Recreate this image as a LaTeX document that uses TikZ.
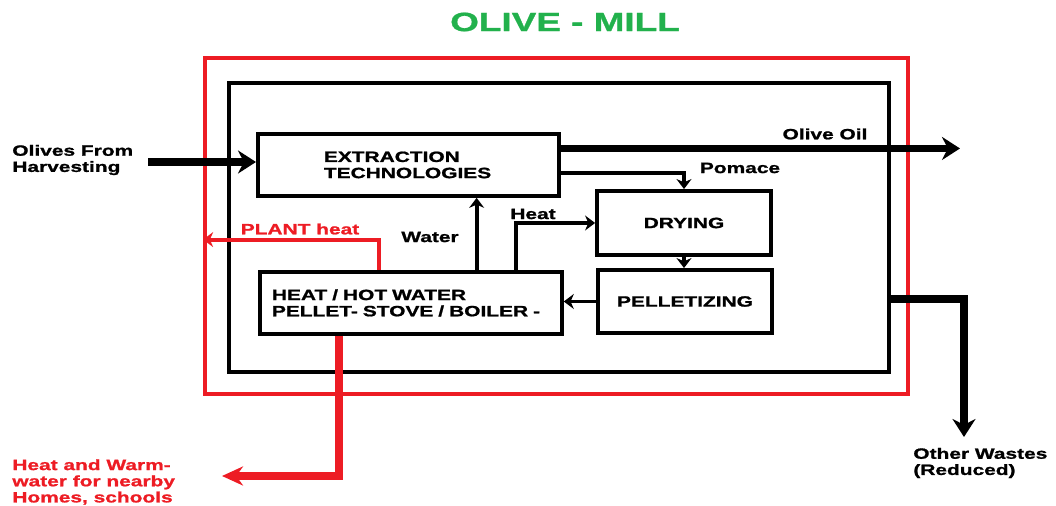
\documentclass[tikz,border=0pt]{standalone}
\usepackage{fontspec}
\newfontfamily\paintfont{Liberation Sans}[FakeStretch=1.4, BoldFeatures={FakeBold=1.2}]
\usetikzlibrary{arrows.meta,calc}
\definecolor{paintred}{RGB}{237,28,36}
\definecolor{paintgreen}{RGB}{34,177,76}
\tikzset{
    lbl/.style={font=\paintfont\bfseries\fontsize{8.5}{9.2}\selectfont, inner sep=0pt, align=left},
    unitbox/.style={draw, line width=2.2pt, inner sep=0pt, font=\paintfont\bfseries\fontsize{8.5}{9.2}\selectfont},
    flow/.style={line width=2.2pt, -{Stealth[length=0.2cm,width=0.3cm]}},
    bigflow/.style={line width=4.4pt, -{Stealth[length=0.36cm,width=0.46cm]}},
    redflow/.style={paintred, line width=4.2pt, -{Stealth[length=0.42cm,width=0.38cm]}},
}
\begin{document}
\begin{tikzpicture}[x=0.02cm, y=-0.02cm]
    \useasboundingbox (0,0) rectangle (1056,506);

    \node[font=\paintfont\bfseries\fontsize{15}{18}\selectfont, text=paintgreen] (title) at (565,22) {OLIVE - MILL};
    \node[draw=paintred, line width=2.2pt, minimum width=14.06cm, minimum height=6.72cm] (mill) at (556.5,226) {};
    \node[draw, line width=2.2pt, minimum width=13.2cm, minimum height=5.78cm] (plant) at (559,227.5) {};

    \begin{scope}
        \node[unitbox, anchor=north west, text width=3.38cm, inner xsep=1.32cm, minimum height=1.24cm, align=left] (extract) at (256,132) {EXTRACTION\\TECHNOLOGIES};
        \node[unitbox, anchor=north west, text width=5.56cm, inner xsep=0.24cm, minimum height=1.24cm, align=left] (heat) at (258,270) {HEAT / HOT WATER\\PELLET- STOVE / BOILER -};
        \node[unitbox, minimum width=3.48cm, minimum height=1.28cm] (dry) at (684,223) {DRYING};
        \node[unitbox, minimum width=3.48cm, minimum height=1.26cm] (pellet) at (685,301.5) {PELLETIZING};
    \end{scope}

    \node[lbl, anchor=west] (olives) at (12,160) {Olives From\\Harvesting};
    \node[lbl] (oiltext) at (825,134) {Olive Oil};
    \node[lbl] (pomacetext) at (740,168) {Pomace};
    \node[lbl] (heattext) at (533,214) {Heat};
    \node[lbl] (watertext) at (430,237) {Water};
    \node[lbl, text=paintred] (planttext) at (300,229) {PLANT heat};
    \node[lbl, text=paintred, anchor=west] (homes) at (12,482) {Heat and Warm-\\water for nearby\\Homes, schools};
    \node[lbl, anchor=west] (wastes) at (913,463) {Other Wastes\\(Reduced)};

    \coordinate (in) at (148,162);
    \coordinate (oil) at (960,148);
    \coordinate (homesend) at (222,476);
    \coordinate (wasteend) at (964,437);

    \draw[bigflow] (in) -- (in -| extract.west);
    \draw[bigflow] ($(extract.north east)!0.25!(extract.south east)$) coordinate (oilstart) -- (oilstart -| oil);
    \draw[flow] ($(extract.north east)!0.62!(extract.south east)$) -| (dry.north);
    \draw[flow] (dry.south) -- (dry.south |- pellet.north);
    \draw[flow] (pellet.west) -- (pellet.west -| heat.east);
    \draw[flow] ($(heat.north west)!0.715!(heat.north east)$) coordinate (w) -- (w |- extract.south);
    \draw[flow] ($(heat.north west)!0.845!(heat.north east)$) |- (dry.west);
    \draw[flow, paintred] ($(heat.north west)!0.395!(heat.north east)$) |- ($(mill.north west)!0.54!(mill.south west)$);
    \draw[redflow] ($(heat.south west)!0.265!(heat.south east)$) |- (homesend);
    \draw[bigflow] ($(plant.north east)!0.745!(plant.south east)$) -| (wasteend);
\end{tikzpicture}
\end{document}
